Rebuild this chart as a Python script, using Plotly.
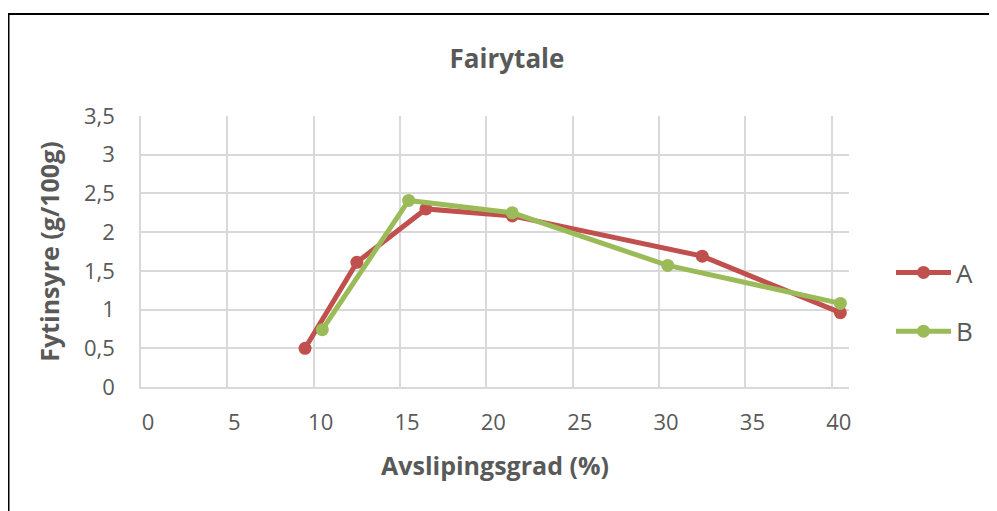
import plotly.graph_objects as go

# Data
series_names = ["A", "B"]
a_x = [9.5, 12.5, 16.5, 21.5, 32.5, 40.5]
a_y = [0.50, 1.61, 2.30, 2.21, 1.69, 0.96]
b_x = [10.5, 15.5, 21.5, 30.5, 40.5]
b_y = [0.74, 2.41, 2.25, 1.57, 1.08]
x_ticks = [0, 5, 10, 15, 20, 25, 30, 35, 40]
y_ticks = [0, 0.5, 1, 1.5, 2, 2.5, 3, 3.5]

colors = ["#C0504D", "#9BBB59"]
FONT = "Open Sans"
TXT = "#595959"
GRID = "#D9D9D9"

fig = go.Figure()
for name, xs, ys, c in [(series_names[0], a_x, a_y, colors[0]),
                        (series_names[1], b_x, b_y, colors[1])]:
    fig.add_trace(go.Scatter(
        x=xs, y=ys, name=name, mode="lines+markers",
        line=dict(color=c, width=5),
        marker=dict(color=c, size=13),
        legendgroup=name,
    ))

W, H = 997, 511
OFF = 8  # the page body adds an 8px margin; compensate so the picture lines up
# plot area in screen pixels: x 141..849, y 116..387
L = 141 - OFF
R = W - (849 - OFF)
T = 116 - OFF
B = H - (387 - OFF)
pw, ph = W - L - R, H - T - B

def sx(px):  # screen px -> paper x
    return (px - OFF - L) / pw

def sy(py):  # screen py -> paper y
    return (H - B - (py - OFF)) / ph

fig.update_layout(
    width=W, height=H,
    margin=dict(l=L, r=R, t=T, b=B),
    paper_bgcolor="white", plot_bgcolor="white",
    separators=", ",
    font=dict(family=FONT, color=TXT, size=22),
    title=dict(text="<b>Fairytale</b>", x=(507 - OFF) / W, xanchor="center",
               y=1 - (59 - OFF) / H, yanchor="middle", yref="container",
               font=dict(size=26, color=TXT, family=FONT)),
    xaxis=dict(range=[0, 41], tickvals=x_ticks, showgrid=True,
               gridcolor=GRID, gridwidth=1.5, showline=True,
               linecolor=GRID, linewidth=1.5, zeroline=False,
               ticks="", ticklabelstandoff=15, ticklabelshift=7,
               tickfont=dict(size=22, color=TXT),
               title=dict(text="<b>Avslipingsgrad (%)</b>",
                          font=dict(size=25, color=TXT), standoff=22)),
    yaxis=dict(range=[0, 3.5], tickvals=y_ticks, showgrid=True,
               gridcolor=GRID, gridwidth=1.5, showline=True,
               linecolor=GRID, linewidth=1.5, zeroline=False,
               ticks="", ticklabelstandoff=20,
               tickfont=dict(size=22, color=TXT),
               title=dict(text="<b>Fytinsyre (g/100g)</b>",
                          font=dict(size=25, color=TXT), standoff=17)),
    legend=dict(x=sx(891), xanchor="left",
                y=sy(302), yanchor="middle",
                font=dict(size=26, color=TXT),
                tracegroupgap=22, bgcolor="rgba(0,0,0,0)",
                itemwidth=55),
    showlegend=True,
)

# outer chart border (frame clipped at right and bottom like the reference)
fig.add_shape(type="rect", xref="paper", yref="paper",
              x0=sx(8.5), x1=sx(1020),
              y0=sy(540), y1=sy(14),
              line=dict(color="black", width=2), fillcolor="rgba(0,0,0,0)",
              layer="below")

fig.write_html("out.html")
